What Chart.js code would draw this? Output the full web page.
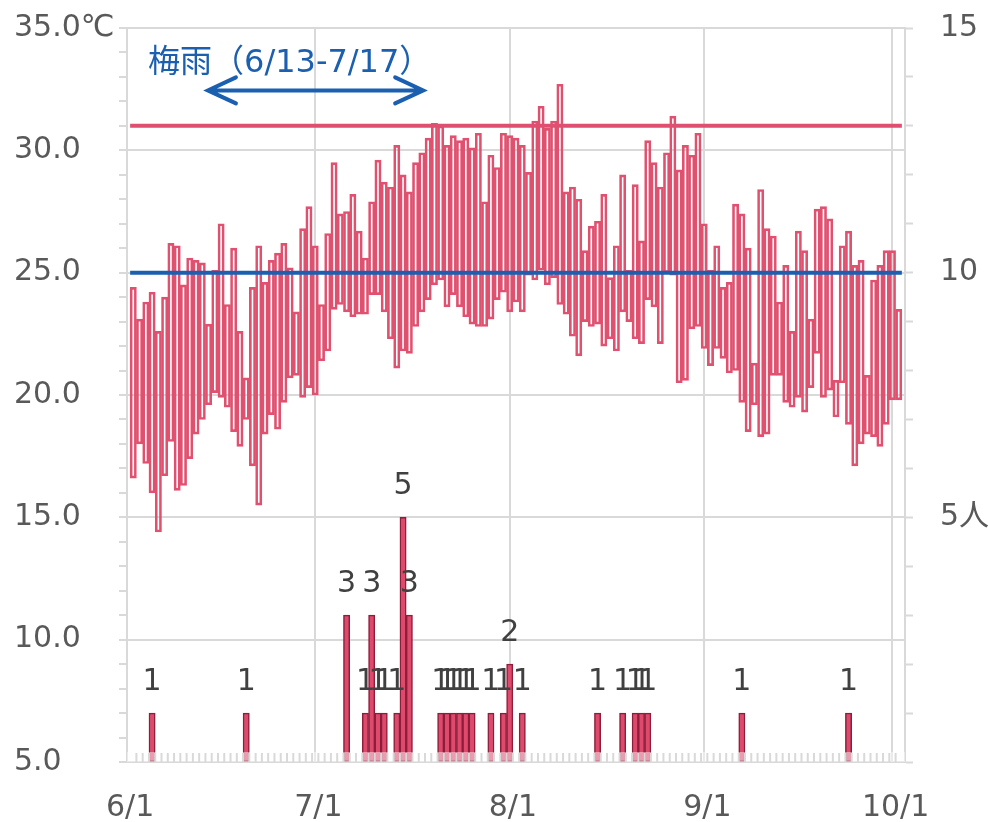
<!DOCTYPE html>
<html lang="ja">
<head>
<meta charset="UTF-8">
<title>気温と患者数</title>
<script src="https://cdn.jsdelivr.net/npm/chart.js@4.4.1/dist/chart.umd.min.js"></script>
<style>
    html, body { margin: 0; padding: 0; background: #fff; }
    #wrap { width: 988px; height: 822px; position: relative; }
</style>
</head>
<body>
<div id="wrap"><canvas id="chart"></canvas></div>
<script>
// daily values, 6/1 .. 10/1
const maxTemp = [
    // June
    24.4, 23.1, 23.8, 24.2, 22.6, 24.0, 26.2, 26.1, 24.5, 25.6,
    25.5, 25.4, 22.9, 25.1, 27.0, 23.7, 26.0, 22.6, 20.7, 24.4,
    26.1, 24.6, 25.5, 25.8, 26.2, 25.2, 23.4, 26.8, 27.7, 26.1,
    // July
    23.7, 26.6, 29.5, 27.4, 27.5, 28.2, 26.7, 25.6, 27.9, 29.6,
    28.7, 28.5, 30.2, 29.0, 28.3, 29.5, 29.9, 30.5, 31.1, 31.0,
    30.2, 30.6, 30.4, 30.5, 30.1, 30.7, 27.9, 29.8, 29.3, 30.7, 30.6,
    // August
    30.5, 30.2, 29.1, 31.2, 31.8, 30.9, 31.2, 32.7, 28.3, 28.5,
    28.0, 25.9, 26.9, 27.1, 28.2, 24.8, 26.1, 29.0, 25.1, 28.6,
    26.3, 30.4, 29.5, 28.5, 29.9, 31.4, 29.2, 30.2, 29.8, 30.7, 27.0,
    // September
    25.1, 26.1, 24.4, 24.6, 27.8, 27.4, 26.0, 21.3, 28.4, 26.8,
    26.5, 23.8, 25.3, 22.6, 26.7, 25.9, 23.1, 27.6, 27.7, 27.2,
    20.6, 26.1, 26.7, 25.3, 25.5, 20.8, 24.7, 25.3, 25.9, 25.9,
    // October
    23.5
];
const minTemp = [
    16.6, 18.0, 17.2, 16.0, 14.4, 16.7, 18.1, 16.1, 16.3, 17.4,
    18.4, 19.0, 19.6, 20.1, 19.9, 19.5, 18.5, 17.9, 19.0, 17.1,
    15.5, 18.4, 19.2, 18.6, 19.7, 20.7, 20.8, 19.9, 20.3, 20.0,
    21.4, 21.8, 23.5, 23.7, 23.4, 23.2, 23.3, 23.3, 24.1, 24.1,
    23.4, 22.3, 21.1, 21.8, 21.7, 22.8, 23.4, 23.9, 24.5, 24.7,
    23.6, 24.1, 23.6, 23.2, 22.9, 22.8, 22.8, 23.1, 23.9, 24.2, 23.4,
    23.8, 23.4, 24.9, 24.7, 25.1, 24.5, 24.8, 23.7, 23.3, 22.4,
    21.6, 23.0, 22.8, 22.9, 22.0, 22.3, 21.8, 23.4, 23.0, 22.3,
    22.1, 23.9, 23.6, 22.1, 25.0, 24.9, 20.5, 20.6, 22.7, 22.8, 21.9,
    21.2, 21.9, 21.5, 20.9, 21.0, 19.7, 18.5, 19.6, 18.3, 18.4,
    20.8, 20.8, 19.7, 19.5, 19.9, 19.3, 20.3, 21.7, 19.9, 20.2,
    19.1, 20.5, 18.8, 17.1, 18.0, 18.4, 18.3, 17.9, 18.8, 19.8,
    19.8
];
const patients = [
    0, 0, 0, 1, 0, 0, 0, 0, 0, 0, 0, 0, 0, 0, 0, 0, 0, 0, 1, 0,
    0, 0, 0, 0, 0, 0, 0, 0, 0, 0,
    0, 0, 0, 0, 3, 0, 0, 1, 3, 1, 1, 0, 1, 5, 3, 0, 0, 0, 0, 1,
    1, 1, 1, 1, 1, 0, 0, 1, 0, 1, 2,
    0, 1, 0, 0, 0, 0, 0, 0, 0, 0, 0, 0, 0, 1, 0, 0, 0, 1, 0, 1,
    1, 1, 0, 0, 0, 0, 0, 0, 0, 0, 0,
    0, 0, 0, 0, 0, 1, 0, 0, 0, 0, 0, 0, 0, 0, 0, 0, 0, 0, 0, 0,
    0, 0, 1, 0, 0, 0, 0, 0, 0, 0,
    0
];
const monthStart = [0, 30, 61, 92, 122];
const monthLabels = ['6/1', '7/1', '8/1', '9/1', '10/1'];
const hotLine = 31;
const avgLine = 25;
const rainyFrom = 12;   // 6/13
const rainyTo = 46;     // 7/17
const rainyText = '梅雨（6/13-7/17）';

const nDays = maxTemp.length;
const font = '"DejaVu Sans", "Noto Sans CJK JP", sans-serif';
const gridGray = '#d9d9d9';

// fixed axis boxes, no extra label padding
const fixBox = size => s => {
    if (s.isHorizontal()) s.height = size; else s.width = size;
    s.paddingTop = 0;
    s.paddingBottom = 0;
    s.paddingLeft = 0;
    s.paddingRight = 0;
};

// labels above patient bars, daily ticks, rainy season arrow
const overlay = {
    id: 'overlay',
    afterDatasetsDraw(chart) {
        const { ctx, chartArea, scales: { x, y } } = chart;
        ctx.save();

        ctx.fillStyle = 'rgba(255,255,255,0.45)';
        ctx.fillRect(chartArea.left, chartArea.bottom - 10, chartArea.right - chartArea.left, 10);
        ctx.strokeStyle = gridGray;
        ctx.lineWidth = 2;
        for (let i = 1; i < nDays; i++) {
            const px = x.getPixelForValue(i);
            ctx.beginPath();
            ctx.moveTo(px, chartArea.bottom - 9);
            ctx.lineTo(px, chartArea.bottom);
            ctx.stroke();
        }

        const meta = chart.getDatasetMeta(3);
        ctx.fillStyle = '#404040';
        ctx.font = '30px ' + font;
        ctx.textAlign = 'center';
        ctx.textBaseline = 'alphabetic';
        meta.data.forEach((bar, i) => {
            if (!patients[i]) return;
            ctx.fillText(String(patients[i]), bar.x, bar.y - 23);
        });

        // 梅雨 arrow
        const blue = '#1a5fb0';
        const x1 = x.getPixelForValue(rainyFrom + 0.4);
        const x2 = x.getPixelForValue(rainyTo + 0.7);
        const ay = y.getPixelForValue(32.45);
        ctx.strokeStyle = blue;
        ctx.lineWidth = 4;
        ctx.lineCap = 'round';
        ctx.beginPath();
        ctx.moveTo(x1, ay); ctx.lineTo(x2, ay);
        ctx.moveTo(x1 + 28, ay - 13); ctx.lineTo(x1, ay); ctx.lineTo(x1 + 28, ay + 13);
        ctx.moveTo(x2 - 28, ay - 13); ctx.lineTo(x2, ay); ctx.lineTo(x2 - 28, ay + 13);
        ctx.stroke();

        ctx.fillStyle = blue;
        ctx.textAlign = 'left';
        ctx.font = '32px ' + font;
        ctx.fillText(rainyText, x.getPixelForValue(2.85), y.getPixelForValue(33.22));
        ctx.restore();
    }
};

new Chart(document.getElementById('chart'), {
    data: {
        datasets: [{
            type: 'line',
            data: [{ x: 0, y: hotLine }, { x: nDays, y: hotLine }],
            borderColor: '#df4f70',
            borderWidth: 4,
            pointRadius: 0,
            yAxisID: 'y',
            order: 0
        }, {
            type: 'line',
            data: [{ x: 0, y: avgLine }, { x: nDays, y: avgLine }],
            borderColor: '#1a5fb0',
            borderWidth: 4,
            pointRadius: 0,
            yAxisID: 'y',
            order: 0
        }, {
            type: 'bar',
            data: maxTemp.map((v, i) => ({ x: i + 0.5, y: [minTemp[i], v] })),
            backgroundColor: 'rgba(255,255,255,0)',
            borderColor: '#e0506f',
            borderWidth: 2,
            borderSkipped: false,
            grouped: false,
            barPercentage: 1,
            categoryPercentage: 1,
            yAxisID: 'y',
            order: 2
        }, {
            type: 'bar',
            data: patients.map((v, i) => ({ x: i + 0.5, y: v || null })),
            backgroundColor: '#de4a6c',
            borderColor: '#8e1d3b',
            borderWidth: 1.5,
            borderSkipped: false,
            grouped: false,
            barPercentage: 1,
            categoryPercentage: 1,
            yAxisID: 'y2',
            order: 1
        }]
    },
    options: {
        responsive: true,
        maintainAspectRatio: false,
        animation: false,
        layout: { padding: { left: 14, top: 28, right: 0, bottom: 0 } },
        plugins: { legend: { display: false }, tooltip: { enabled: false } },
        scales: {
            x: {
                type: 'linear',
                min: 0,
                max: nDays,
                afterBuildTicks: s => { s.ticks = [...Array(nDays + 1).keys()].map(v => ({ value: v })); },
                afterFit: fixBox(60),
                ticks: {
                    autoSkip: false,
                    maxRotation: 0,
                    minRotation: 0,
                    padding: 28,
                    color: '#595959',
                    font: { size: 30, family: font },
                    callback: v => {
                        const k = monthStart.indexOf(v);
                        return k >= 0 ? monthLabels[k] : '';
                    }
                },
                grid: {
                    color: c => monthStart.includes(c.tick && c.tick.value) ? gridGray : 'rgba(0,0,0,0)',
                    lineWidth: 2,
                    drawTicks: false,
                    tickLength: 0
                },
                border: { color: gridGray, width: 2 }
            },
            y: {
                position: 'left',
                min: 5,
                max: 35,
                afterFit: fixBox(113),
                ticks: {
                    stepSize: 1,
                    autoSkip: false,
                    crossAlign: 'far',
                    color: '#595959',
                    font: { size: 30, family: font },
                    callback: v => v === 35 ? '35.0℃' : (v % 5 === 0 ? v.toFixed(1) : '')
                },
                grid: {
                    color: c => c.tick && c.tick.value % 5 === 0 ? gridGray : 'rgba(0,0,0,0)',
                    lineWidth: 2,
                    tickColor: gridGray,
                    tickLength: 8,
                    tickWidth: 2
                },
                border: { color: gridGray, width: 2 }
            },
            y2: {
                position: 'right',
                min: 0,
                max: 15,
                afterFit: fixBox(83),
                ticks: {
                    stepSize: 1,
                    autoSkip: false,
                    padding: 27,
                    color: '#595959',
                    font: { size: 30, family: font },
                    callback: v => v === 5 ? '5人' : (v === 10 || v === 15 ? String(v) : '')
                },
                grid: {
                    drawOnChartArea: false,
                    tickColor: gridGray,
                    tickLength: 8,
                    tickWidth: 2
                },
                border: { color: gridGray, width: 2 }
            }
        }
    },
    plugins: [overlay]
});
</script>
</body>
</html>
